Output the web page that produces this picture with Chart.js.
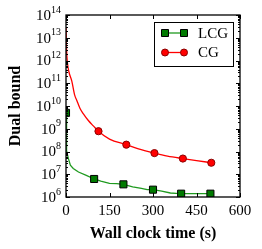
<!DOCTYPE html>
<html>
<head>
<meta charset="utf-8">
<script src="https://cdn.jsdelivr.net/npm/chart.js@4/dist/chart.umd.min.js"></script>
<style>
  html, body { margin: 0; padding: 0; background: #fff; }
  canvas { display: block; }
</style>
</head>
<body>
<canvas id="boundChart" width="262" height="249"></canvas>
<script>
// Wall clock time (s) and dual bound
const lcgTime  = [0, 1, 3, 8, 15, 25, 43, 70, 97, 120, 150, 175, 198, 230, 260, 280, 300, 330, 360, 380, 397, 450, 498];
const lcgBound = [5e9, 3e8, 1.1e8, 5e7, 2.5e7, 1.8e7, 1.25e7, 9e6, 6.2e6, 5e6, 4e6, 3.9e6, 3.6e6, 2.8e6, 2.4e6, 2.1e6, 2.1e6, 1.8e6, 1.5e6, 1.45e6, 1.4e6, 1.4e6, 1.4e6];
const lcgMarks = [0, 97, 198, 300, 397, 498];

const cgTime  = [0, 2, 5, 10, 20, 30, 37, 48, 60, 77, 95, 112, 150, 208, 250, 305, 350, 403, 450, 501];
const cgBound = [3e13, 2.9e12, 8e11, 3.2e11, 1.25e11, 3e10, 1.8e10, 8e9, 4.5e9, 2.3e9, 1.3e9, 7.8e8, 3.5e8, 2e8, 1.3e8, 8.5e7, 6.3e7, 4.9e7, 4e7, 3.2e7];
const cgMarks = [112, 208, 305, 403, 501];

const xTicks = [0, 150, 300, 450, 600];
const yMin = 1e6, yMax = 1e14;

const serif = '"Liberation Serif", "DejaVu Serif", serif';

function points(t, v) {
    return t.map((x, i) => ({ x: x, y: v[i] }));
}

// inward ticks on all four sides, power-of-ten labels and the boxed legend
const framePlugin = {
    id: 'frame',
    afterDraw(chart) {
        const ctx = chart.ctx;
        const area = chart.chartArea;
        const xs = chart.scales.x;
        const ys = chart.scales.y;
        ctx.save();
        ctx.strokeStyle = '#000';
        ctx.lineWidth = 1.3;
        ctx.strokeRect(area.left, area.top, area.right - area.left, area.bottom - area.top);

        ctx.lineWidth = 1;
        ctx.beginPath();
        xTicks.forEach(v => {
            const px = Math.round(xs.getPixelForValue(v)) + 0.5;
            ctx.moveTo(px, area.bottom); ctx.lineTo(px, area.bottom - 4);
            ctx.moveTo(px, area.top); ctx.lineTo(px, area.top + 4);
        });
        ys.ticks.forEach(t => {
            const major = Math.abs(Math.log10(t.value) - Math.round(Math.log10(t.value))) < 1e-9;
            const len = major ? 4 : 2;
            const py = Math.round(ys.getPixelForValue(t.value)) + 0.5;
            ctx.moveTo(area.left, py); ctx.lineTo(area.left + len, py);
            ctx.moveTo(area.right, py); ctx.lineTo(area.right - len, py);
        });
        ctx.stroke();

        // y labels as 10 with a raised exponent
        ctx.fillStyle = '#000';
        ctx.textBaseline = 'middle';
        for (let e = Math.log10(yMin); e <= Math.log10(yMax); e++) {
            const py = ys.getPixelForValue(Math.pow(10, e));
            const exp = String(e);
            ctx.font = '10px ' + serif;
            const ew = ctx.measureText(exp).width;
            const xEnd = area.left - 5;
            ctx.textAlign = 'left';
            ctx.fillText(exp, xEnd - ew, py - 5);
            ctx.font = '15px ' + serif;
            ctx.textAlign = 'right';
            ctx.fillText('10', xEnd - ew, py + 1);
        }

        // legend
        const bw = 79, bh = 44;
        const bx = area.right - 7 - bw, by = area.top + 7;
        ctx.fillStyle = '#fff';
        ctx.fillRect(bx, by, bw, bh);
        ctx.strokeStyle = '#000';
        ctx.lineWidth = 1;
        ctx.strokeRect(bx + 0.5, by + 0.5, bw, bh);
        chart.data.datasets.forEach((ds, i) => {
            const ly = by + 11 + i * 19.5;
            const x1 = bx + 11, x2 = bx + 30;
            ctx.strokeStyle = ds.borderColor;
            ctx.lineWidth = ds.borderWidth;
            ctx.beginPath();
            ctx.moveTo(x1, ly); ctx.lineTo(x2, ly);
            ctx.stroke();
            [x1, x2].forEach(px => {
                ctx.fillStyle = ds.pointBackgroundColor;
                ctx.strokeStyle = ds.pointBorderColor;
                ctx.lineWidth = 1;
                ctx.beginPath();
                if (ds.pointStyle === 'rect') {
                    const s = 3.5;
                    ctx.rect(px - s, ly - s, 2 * s, 2 * s);
                } else {
                    ctx.arc(px, ly, 3.5, 0, Math.PI * 2);
                }
                ctx.fill();
                ctx.stroke();
            });
            ctx.fillStyle = '#000';
            ctx.font = '15px ' + serif;
            ctx.textAlign = 'left';
            ctx.textBaseline = 'middle';
            ctx.fillText(ds.label, bx + 44, ly + 1);
        });
        ctx.restore();
    }
};

document.addEventListener('DOMContentLoaded', function() {
    const canvas = document.getElementById('boundChart');

    new Chart(canvas, {
        type: 'line',
        data: {
            datasets: [{
                label: 'LCG',
                data: points(lcgTime, lcgBound),
                borderColor: '#1f9a1f',
                borderWidth: 1.3,
                pointStyle: 'rect',
                pointRadius: c => lcgMarks.includes(lcgTime[c.dataIndex]) ? 5 : 0,
                pointBackgroundColor: '#007a00',
                pointBorderColor: '#000',
                pointBorderWidth: 1,
                tension: 0,
                clip: 0
            }, {
                label: 'CG',
                data: points(cgTime, cgBound),
                borderColor: '#ff0000',
                borderWidth: 1.3,
                pointStyle: 'circle',
                pointRadius: c => cgMarks.includes(cgTime[c.dataIndex]) ? 3.6 : 0,
                pointBackgroundColor: '#ff0000',
                pointBorderColor: '#8a0000',
                pointBorderWidth: 1,
                cubicInterpolationMode: 'monotone',
                clip: 0
            }]
        },
        options: {
            responsive: false,
            animation: false,
            devicePixelRatio: 1,
            events: [],
            layout: {
                padding: { top: 15, right: 22, left: 0, bottom: 0 }
            },
            scales: {
                x: {
                    type: 'linear',
                    min: 0,
                    max: 600,
                    afterBuildTicks: scale => {
                        scale.ticks = xTicks.map(v => ({ value: v }));
                    },
                    afterFit: scale => { scale.height = 52; },
                    ticks: {
                        color: '#000',
                        padding: 5,
                        maxRotation: 0,
                        font: { family: serif, size: 15 }
                    },
                    grid: { drawOnChartArea: false, drawTicks: false },
                    border: { display: false },
                    title: {
                        display: true,
                        text: 'Wall clock time (s)',
                        color: '#000',
                        padding: { top: 0, bottom: 6 },
                        font: { family: serif, size: 16, weight: 'bold' }
                    }
                },
                y: {
                    type: 'logarithmic',
                    min: yMin,
                    max: yMax,
                    afterBuildTicks: scale => {
                        const t = [];
                        for (let e = 6; e < 14; e++) {
                            for (let m = 1; m < 10; m++) t.push({ value: m * Math.pow(10, e) });
                        }
                        t.push({ value: yMax });
                        scale.ticks = t;
                    },
                    afterFit: scale => { scale.width = 66; },
                    ticks: { display: false },
                    grid: { drawOnChartArea: false, drawTicks: false },
                    border: { display: false },
                    title: {
                        display: true,
                        text: 'Dual bound',
                        color: '#000',
                        padding: { top: 6, bottom: 0 },
                        font: { family: serif, size: 16, weight: 'bold' }
                    }
                }
            },
            plugins: {
                legend: { display: false },
                tooltip: { enabled: false }
            }
        },
        plugins: [framePlugin]
    });
});
</script>
</body>
</html>
